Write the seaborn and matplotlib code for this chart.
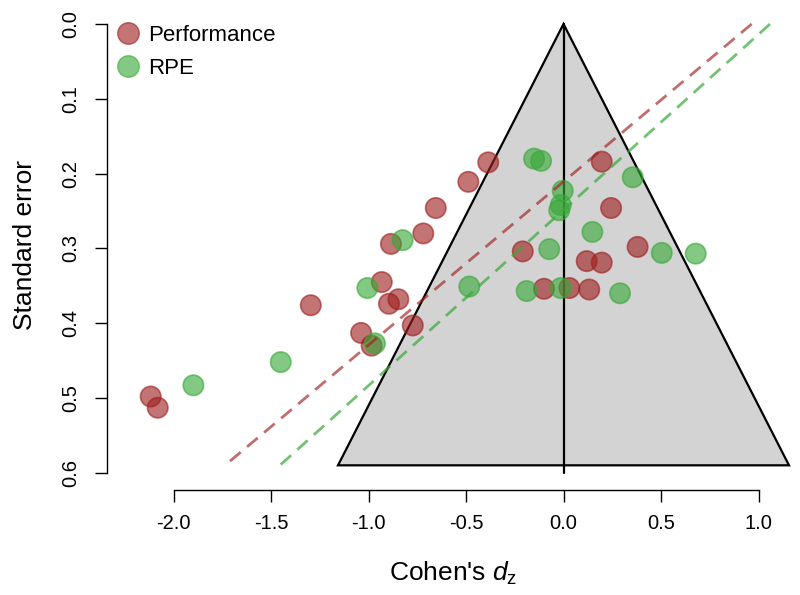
import pandas as pd
import seaborn as sns
import matplotlib
matplotlib.use("Agg")
from matplotlib import pyplot as plt
from matplotlib.patches import Polygon
from matplotlib.lines import Line2D

perf_d = [-2.117, -2.081, -1.296, -0.488, -0.655, -0.719, -0.885, -0.932,
          -0.386, -0.895, -0.847, -0.773, -1.038, -0.984, 0.196, 0.244,
          -0.209, 0.119, 0.196, 0.380, -0.100, 0.030, 0.132]
perf_se = [0.498, 0.513, 0.376, 0.211, 0.246, 0.280, 0.294, 0.345,
           0.185, 0.374, 0.368, 0.403, 0.413, 0.430, 0.184, 0.246,
           0.304, 0.317, 0.319, 0.298, 0.354, 0.353, 0.355]

rpe_d = [-1.898, -1.450, -0.825, -1.006, -0.967, -0.483, -0.151, -0.115,
         -0.004, -0.014, -0.022, 0.355, 0.148, -0.073, 0.504, 0.678,
         0.290, -0.189, -0.014]
rpe_se = [0.483, 0.452, 0.289, 0.353, 0.427, 0.351, 0.180, 0.183,
          0.223, 0.242, 0.249, 0.205, 0.278, 0.301, 0.306, 0.307,
          0.360, 0.357, 0.353]

# regression lines: d at se = 0 and at se = se_max
line_se = [0.0, 0.59]
perf_line_d = [0.965, -1.736]
rpe_line_d = [1.059, -1.454]

se_max = 0.59
z_crit = 1.96

x_ticks = [-2.0, -1.5, -1.0, -0.5, 0.0, 0.5, 1.0]
y_ticks = [0.0, 0.1, 0.2, 0.3, 0.4, 0.5, 0.6]

df = pd.DataFrame({
    "d": perf_d + rpe_d,
    "se": perf_se + rpe_se,
    "group": ["Performance"] * len(perf_d) + ["RPE"] * len(rpe_d),
})

#%%
sns.set_style("ticks")
plt.rcParams["font.family"] = ["Liberation Sans", "DejaVu Sans"]
plt.rcParams["mathtext.fontset"] = "custom"
plt.rcParams["mathtext.rm"] = "Liberation Sans"
plt.rcParams["mathtext.it"] = "Liberation Sans:italic"
plt.rcParams["text.color"] = "black"
plt.rcParams["axes.labelcolor"] = "black"

red = (0.62, 0.12, 0.12)
green = (0.22, 0.66, 0.22)
palette = {"Performance": red, "RPE": green}

fig = plt.figure(figsize=(8, 5.95), dpi=100)
ax = fig.add_axes([107 / 800, 105 / 595, 693 / 800, 490 / 595])

# funnel
tri = Polygon([[-z_crit * se_max, se_max], [0, 0], [z_crit * se_max, se_max]],
              closed=True, facecolor="#D3D3D3", edgecolor="black", lw=1.6, zorder=1)
ax.add_patch(tri)
ax.plot([0, 0], [0, 0.6], color="black", lw=1.6, zorder=1.5)

sns.scatterplot(data=df, x="d", y="se", hue="group", palette=palette,
                s=215, alpha=0.62, edgecolor="face", linewidth=1.2,
                legend=False, ax=ax, zorder=3)

ax.plot(perf_line_d, line_se, color=red, alpha=0.65, lw=2.0,
        linestyle=(0, (5, 3)), zorder=4)
ax.plot(rpe_line_d, line_se, color=green, alpha=0.7, lw=2.0,
        linestyle=(0, (5, 3)), zorder=4)

ax.set_xlim((107 - 563.5) / 195, (800 - 563.5) / 195)
ax.set_ylim((490 - 24) / 748, -24 / 748)

ax.set_xticks(x_ticks)
ax.set_xticklabels([f"{v:.1f}" for v in x_ticks])
ax.set_yticks(y_ticks)
ax.set_yticklabels([f"{v:.1f}" for v in y_ticks])
ax.tick_params(axis="both", length=8.5, width=1.0, color="black",
               labelsize=14.5, labelcolor="black")
ax.tick_params(axis="x", pad=9)
ax.tick_params(axis="y", pad=11, labelrotation=90)
for lab in ax.get_yticklabels():
    lab.set_va("center")

sns.despine(ax=ax)
ax.spines["left"].set_bounds(0, 0.6)
ax.spines["bottom"].set_bounds(-2.0, 1.0)
for sp in ["left", "bottom"]:
    ax.spines[sp].set_linewidth(1.0)
    ax.spines[sp].set_color("black")

ax.set_xlabel("Cohen's $\\mathit{d}_\\mathregular{z}$", fontsize=19, labelpad=19)
ax.set_ylabel("Standard error", fontsize=19, labelpad=17)

handles = [Line2D([], [], marker="o", ls="", markersize=15.5, color=c, alpha=0.62)
           for c in (red, green)]
fig.legend(handles, ["Performance", "RPE"], loc="upper left",
           bbox_to_anchor=(117 / 800, 1 - 25 / 595), frameon=False,
           fontsize=16, handlelength=1.0, handletextpad=0.4,
           labelspacing=0.55, borderpad=0, borderaxespad=0)

plt.savefig("out.png", dpi=100)
